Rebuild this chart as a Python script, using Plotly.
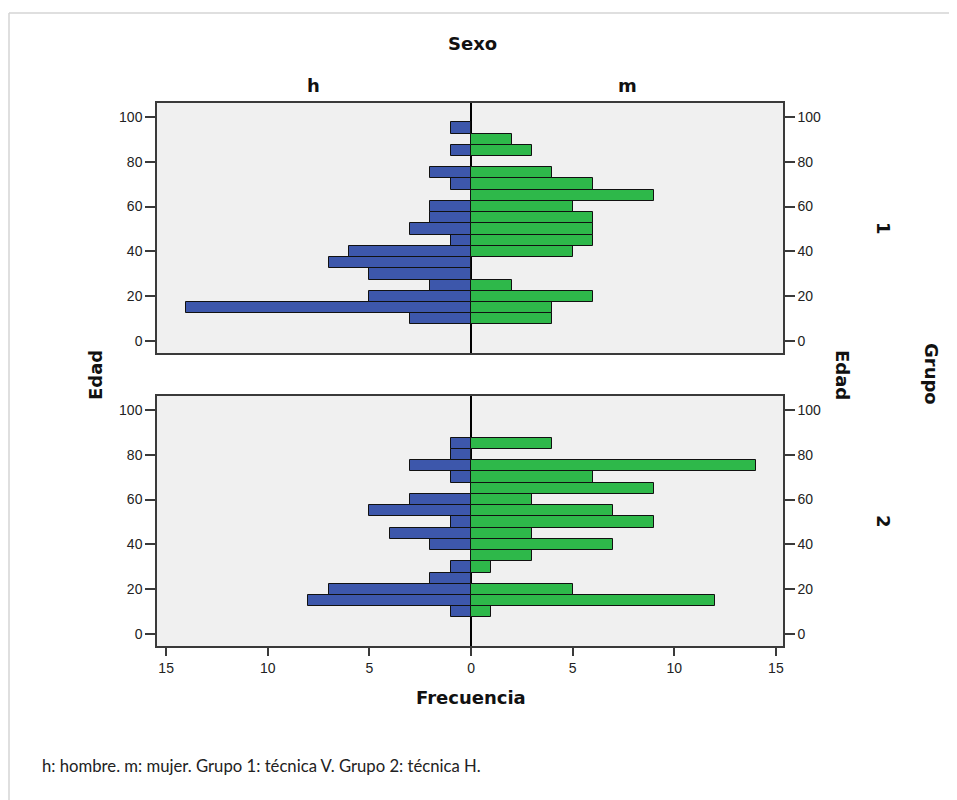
import plotly.graph_objects as go

# Age bins (centres, width 5)
ages = [10, 15, 20, 25, 30, 35, 40, 45, 50, 55, 60, 65, 70, 75, 80, 85, 90, 95]

# Grupo 1
g1_h = [3, 14, 5, 2, 5, 7, 6, 1, 3, 2, 2, 0, 1, 2, 0, 1, 0, 1]
g1_m = [4, 4, 6, 2, 0, 0, 5, 6, 6, 6, 5, 9, 6, 4, 0, 3, 2, 0]
# Grupo 2
g2_h = [1, 8, 7, 2, 1, 0, 2, 4, 1, 5, 3, 0, 1, 3, 1, 1, 0, 0]
g2_m = [1, 12, 5, 0, 1, 3, 7, 3, 9, 7, 3, 9, 6, 14, 0, 4, 0, 0]

x_ticks = [-15, -10, -5, 0, 5, 10, 15]
x_ticktext = ["15", "10", "5", "0", "5", "10", "15"]
y_ticks = [0, 20, 40, 60, 80, 100]

BLUE = "#3d57ab"
GREEN = "#2eb84a"
BG = "#f0f0f0"
LINE = "#3a3a3a"

OFF = 8  # page body margin
W, H = 957 - OFF, 800 - OFF
L, R, T, B = 157, 783, 103, 646  # page pixel coords of plot area


def px_x(p):
    return (p - L) / (R - L)


def px_y(p):
    return (B - p) / (B - T)


def nz(v, sign=1):
    return [sign * a if a else None for a in v]


fig = go.Figure()
for h, m, ya in [(g1_h, g1_m, "y"), (g2_h, g2_m, "y2")]:
    xa = "x" if ya == "y" else "x2"
    fig.add_trace(go.Bar(y=ages, x=nz(h, -1), orientation="h", width=5,
                         marker=dict(color=BLUE, line=dict(color="#111", width=1)),
                         xaxis=xa, yaxis=ya, showlegend=False))
    fig.add_trace(go.Bar(y=ages, x=nz(m), orientation="h", width=5,
                         marker=dict(color=GREEN, line=dict(color="#111", width=1)),
                         xaxis=xa, yaxis=ya, showlegend=False))

# placeholders so the right-hand axes get drawn
for xa, ya in [("x", "y3"), ("x2", "y4")]:
    fig.add_trace(go.Scatter(x=[0], y=[0], mode="markers", marker=dict(opacity=0),
                             hoverinfo="skip", showlegend=False, xaxis=xa, yaxis=ya))

tickfont = dict(family="Liberation Sans, Arial, sans-serif", size=14, color="#222")
xr = [-15.45, 15.35]
yr = [-5.2, 106.1]
d1 = [px_y(353), 1.0]
d2 = [0.0, px_y(396)]

xcommon = dict(range=xr, showgrid=False, zeroline=True, zerolinecolor="#000",
               zerolinewidth=1.5, showline=True, linecolor=LINE, linewidth=1.5,
               mirror=True, fixedrange=True)
ycommon = dict(range=yr, showgrid=False, zeroline=False, showline=True,
               linecolor=LINE, linewidth=1.5, mirror=True, tickvals=y_ticks,
               ticks="outside", ticklen=10, tickcolor=LINE, tickwidth=1.5,
               tickfont=tickfont, fixedrange=True)

fig.update_layout(
    width=W, height=H,
    margin=dict(l=L - OFF, r=957 - R, t=T - OFF, b=800 - B),
    paper_bgcolor="white", plot_bgcolor=BG,
    barmode="overlay", bargap=0,
    xaxis=dict(anchor="y", showticklabels=False, ticks="", **xcommon),
    xaxis2=dict(anchor="y2", matches="x", tickvals=x_ticks, ticktext=x_ticktext,
                ticks="outside", ticklen=8, tickcolor=LINE, tickwidth=1.5,
                tickfont=tickfont, **xcommon),
    yaxis=dict(domain=d1, anchor="x", **ycommon),
    yaxis2=dict(domain=d2, anchor="x2", **ycommon),
    yaxis3=dict(domain=d1, overlaying="y", side="right", anchor="x", **ycommon),
    yaxis4=dict(domain=d2, overlaying="y2", side="right", anchor="x2", **ycommon),
)

bold = dict(family="DejaVu Sans, Arial, sans-serif", size=18, color="#111")
anns = [
    dict(text="<b>Sexo</b>", x=px_x(472), y=px_y(43)),
    dict(text="<b>h</b>", x=px_x(313), y=px_y(86)),
    dict(text="<b>m</b>", x=px_x(627), y=px_y(86)),
    dict(text="<b>Edad</b>", x=px_x(95), y=px_y(375), textangle=-90),
    dict(text="<b>Edad</b>", x=px_x(843), y=px_y(375), textangle=90),
    dict(text="<b>Grupo</b>", x=px_x(931), y=px_y(374), textangle=90),
    dict(text="<b>1</b>", x=px_x(884), y=px_y(228), textangle=90),
    dict(text="<b>2</b>", x=px_x(884), y=px_y(521), textangle=90),
    dict(text="<b>Frecuencia</b>", x=px_x(471), y=px_y(697)),
]
for a in anns:
    fig.add_annotation(xref="paper", yref="paper", showarrow=False,
                       xanchor="center", yanchor="middle", font=bold, **a)

fig.add_annotation(xref="paper", yref="paper", showarrow=False,
                   text="h: hombre. m: mujer. Grupo 1: técnica V. Grupo 2: técnica H.",
                   x=px_x(40), y=px_y(766), xanchor="left", yanchor="middle",
                   font=dict(family="Lato, Noto Sans, sans-serif", size=16.7, color="#222"))

# outer light frame
fig.add_shape(type="line", xref="paper", yref="paper",
              x0=px_x(9), x1=px_x(960), y0=px_y(13), y1=px_y(13),
              line=dict(color="#d4d4d4", width=1.5))
fig.add_shape(type="line", xref="paper", yref="paper",
              x0=px_x(9), x1=px_x(9), y0=px_y(13), y1=px_y(805),
              line=dict(color="#d4d4d4", width=1.5))

fig.write_html("out.html")
